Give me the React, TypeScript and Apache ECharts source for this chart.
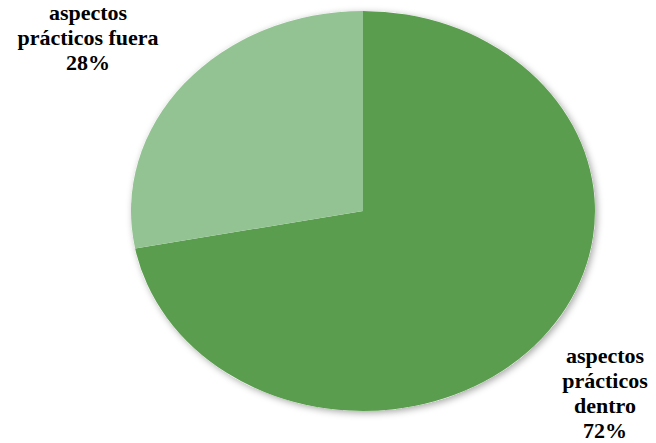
import React, { useEffect, useRef } from "react";
import * as echarts from "echarts";

const categories = ["aspectos prácticos dentro", "aspectos prácticos fuera"];
const values = [72, 28];
const labelTexts = ["aspectos\nprácticos\ndentro", "aspectos\nprácticos fuera"];
const colors = ["#5b9d4e", "#93c392"];

// layout (pixels)
const CX = 363;
const CY = 211;
const RX = 232;
const RY = 200;
const labelPos = [
  [605, 343],
  [88, 0],
];

export default function App() {
  const ref = useRef<HTMLDivElement>(null);
  useEffect(() => {
    if (!ref.current) return;
    const chart = echarts.init(ref.current, undefined, { renderer: "svg" });
    const total = values.reduce((a, b) => a + b, 0);
    chart.setOption({
      animation: false,
      backgroundColor: "#ffffff",
      graphic: [
        {
          type: "ellipse",
          z: 0,
          shape: { cx: CX, cy: CY, rx: RX, ry: RY },
          style: {
            fill: "#ffffff",
            shadowBlur: 7,
            shadowColor: "rgba(0,0,0,0.35)",
            shadowOffsetX: 2,
            shadowOffsetY: 2,
          },
        },
        ...categories.map((c, i) => ({
          type: "text",
          z: 10,
          x: labelPos[i][0],
          y: labelPos[i][1],
          style: {
            text: labelTexts[i] + "\n" + Math.round((values[i] / total) * 100) + "%",
            fill: "#000000",
            fontFamily: "serif",
            fontWeight: 700,
            fontSize: 22,
            lineHeight: 25,
            textAlign: "center",
            textVerticalAlign: "top",
          },
        })),
      ],
      series: [
        {
          type: "custom",
          coordinateSystem: "none",
          z: 5,
          data: categories.map((name, i) => ({ name, value: values[i] })),
          renderItem: (params: any, api: any) => {
            const i = params.dataIndex;
            const before = values.slice(0, i).reduce((a, b) => a + b, 0);
            const v = api.value(0);
            const start = -Math.PI / 2 + (before / total) * Math.PI * 2;
            const end = start + (v / total) * Math.PI * 2;
            return {
              type: "sector",
              x: CX,
              y: CY,
              scaleY: RY / RX,
              shape: { cx: 0, cy: 0, r: RX, r0: 0, startAngle: start, endAngle: end, clockwise: true },
              style: { fill: colors[i] },
            };
          },
        },
      ],
    });
    return () => chart.dispose();
  }, []);
  return (
    <div
      ref={ref}
      style={{ position: "fixed", left: 0, top: 0, width: 656, height: 443 }}
    />
  );
}
